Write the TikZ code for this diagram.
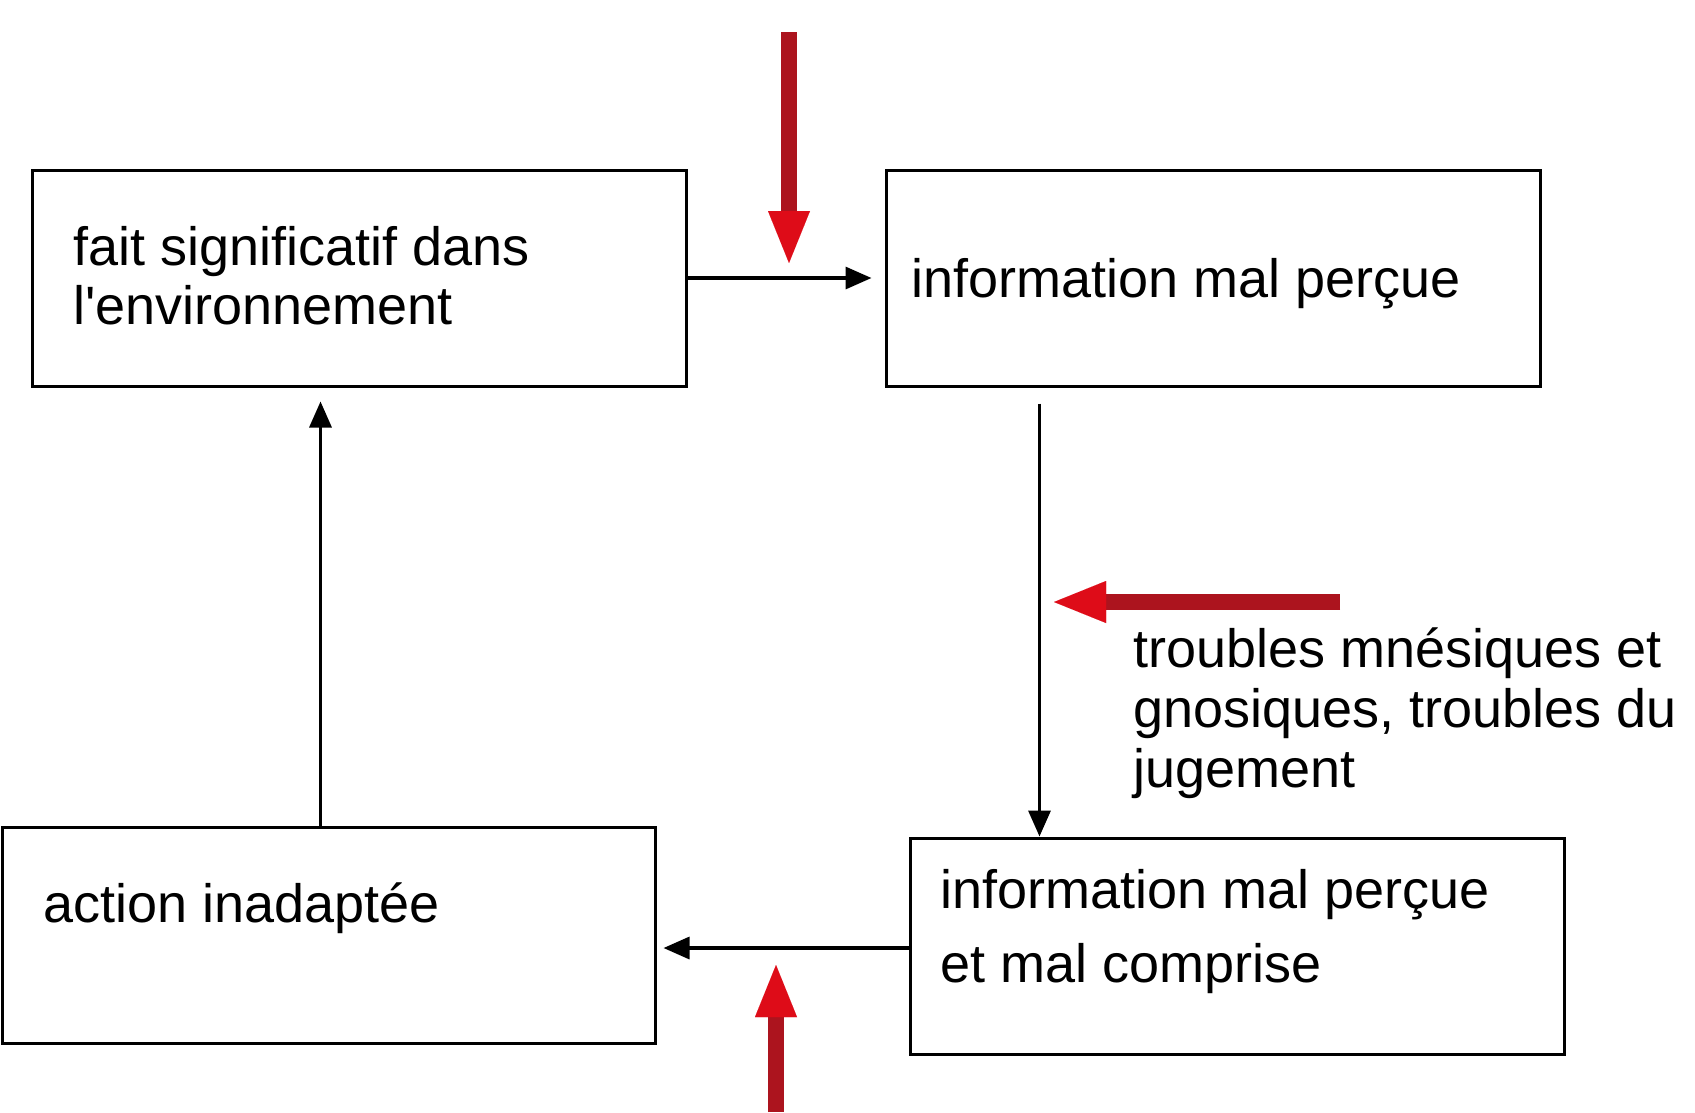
\documentclass[tikz,border=0pt]{standalone}
\usepackage{fontspec}
\setmainfont{Liberation Sans}
\usetikzlibrary{arrows.meta}
\definecolor{redshaft}{RGB}{172,20,30}
\definecolor{redhead}{RGB}{222,12,24}
\begin{document}
\begin{tikzpicture}[x=1pt,y=-1pt,
  box/.style={draw=black,line width=3pt,rectangle,minimum width=654pt,minimum height=216pt,inner sep=0pt},
  txt/.style={inner sep=0pt,align=left,font=\fontsize{54}{59}\selectfont},
  flow/.style={line width=3.3pt,-{Triangle[length=26pt,width=22pt]}},
  redarrow/.style={draw=redshaft,line width=16pt,-{Triangle[length=52pt,width=42pt,color=redhead,line width=0.01pt]}}]
\fill[white] (0,0) rectangle (1695,1112);
\useasboundingbox (0,0) rectangle (1695,1112);
% boxes
\node[box] (b1) at (359,278) {};
\node[box] (b2) at (1213,278) {};
\node[box,minimum width=653pt] (b3) at (328.5,935) {};
\node[box] (b4) at (1237,946) {};
% texts
\node[txt,anchor=north west] (t1) at (73,226) {fait significatif dans\\l\textquotesingle environnement};
\node[txt,anchor=base west] (t2) at (911,297) {information mal perçue};
\node[txt,anchor=base west] (t3) at (43,922) {action inadaptée};
\node[txt,anchor=north west,font=\fontsize{54}{74}\selectfont] (t4) at (940,869) {information mal perçue\\et mal comprise};
\node[txt,anchor=north west,font=\fontsize{54}{60}\selectfont] (t5) at (1133,628) {troubles mnésiques et\\gnosiques, troubles du\\jugement};
% black connectors
\draw[flow,shorten >=13pt] (b1.east) -- (b2.west);
\draw[flow,shorten <=16pt] ([xshift=155pt]b2.south west) -- ([xshift=131pt]b4.north west);
\draw[flow,shorten >=7pt] (b4.west |- 0,948) -- (b3.east |- 0,948);
\draw[flow,shorten >=14pt] ([xshift=320pt]b3.north west) -- ([xshift=290pt]b1.south west);
% red arrows
\coordinate (r1s) at (789,32);
\coordinate (r1e) at (789,263);
\coordinate (r2s) at (1340,602);
\coordinate (r2e) at (1054,602);
\coordinate (r3s) at (776,1112);
\coordinate (r3e) at (776,965);
\draw[redarrow] (r1s) -- (r1e);
\draw[redarrow] (r2s) -- (r2e);
\draw[redarrow] (r3s) -- (r3e);
\end{tikzpicture}
\end{document}
